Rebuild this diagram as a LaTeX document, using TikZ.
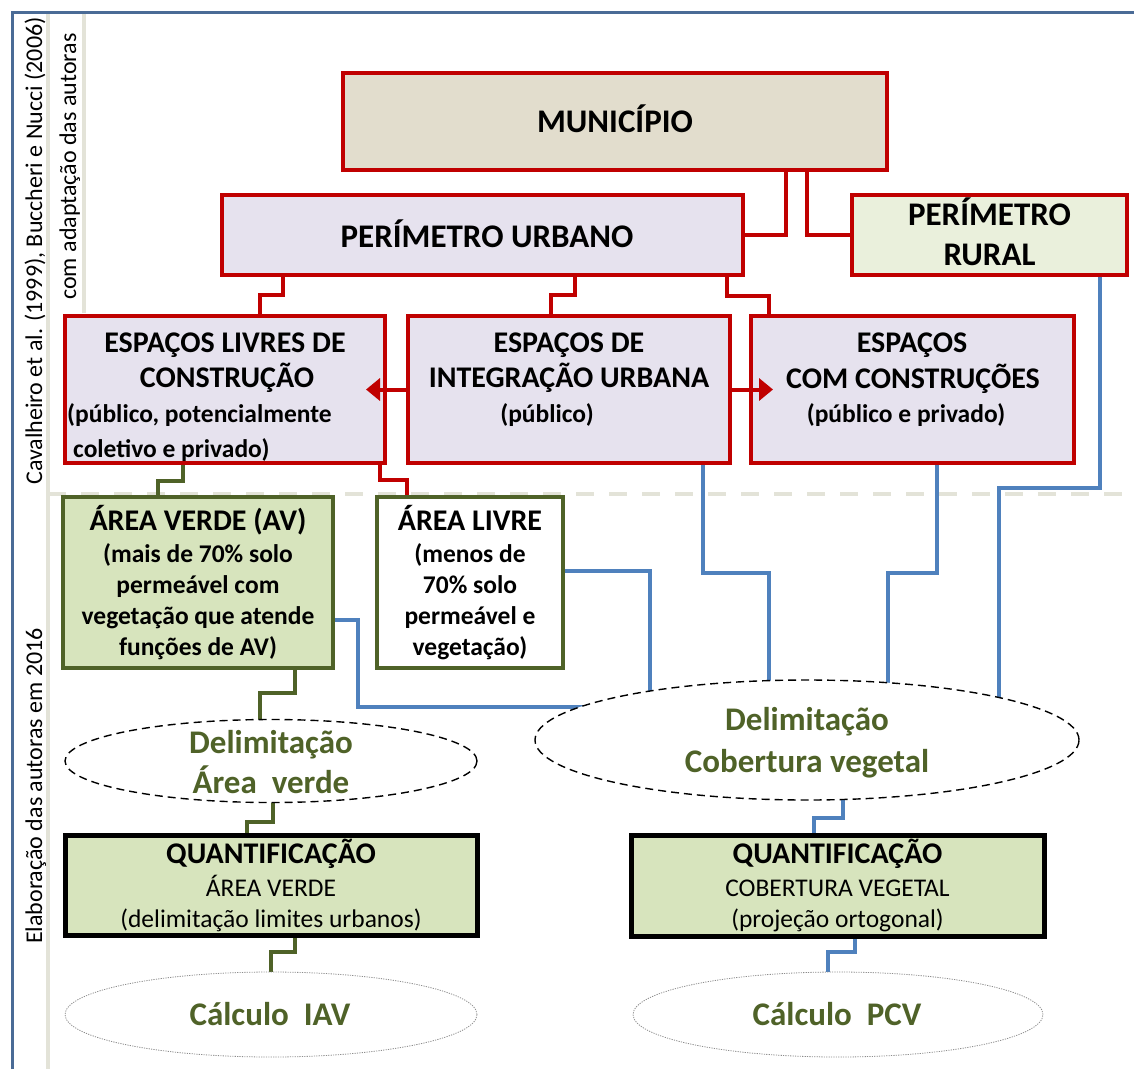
\documentclass[tikz,border=0pt]{standalone}
\usepackage{fontspec}
\setmainfont{Carlito}
\usetikzlibrary{shapes.geometric,arrows.meta}
\definecolor{cred}{HTML}{C00000}
\definecolor{clav}{HTML}{E6E2EE}
\definecolor{cbeige}{HTML}{E2DDCD}
\definecolor{cgreenl}{HTML}{D7E4BD}
\definecolor{cgreenxl}{HTML}{EAF0DC}
\definecolor{colive}{HTML}{4F6228}
\definecolor{cblue}{HTML}{4F81BD}
\definecolor{cframe}{HTML}{4A6B96}
\definecolor{csep}{HTML}{E3E3D8}
\newcommand\fszA{\fontsize{33}{40}\selectfont}
\newcommand\fszB{\fontsize{30}{35}\selectfont}
\newcommand\fszC{\fontsize{25.5}{31}\selectfont}
\newcommand\fszR{\fontsize{24}{29}\selectfont}
\pgfdeclarelayer{bg}
\pgfsetlayers{bg,main}
\begin{document}
\begin{tikzpicture}[x=1pt,y=-1pt,
  redbox/.style={draw=cred, line width=4pt, inner sep=0pt},
  greenbox/.style={draw=colive, line width=4pt, inner sep=0pt},
  quantbox/.style={draw=black, line width=5pt, fill=cgreenl, inner sep=0pt},
  dellipse/.style={ellipse, draw=black, line width=1.4pt, dash pattern=on 8pt off 5pt, fill=white, inner sep=0pt},
  calcellipse/.style={ellipse, draw=black!45, line width=0.8pt, dash pattern=on 1.2pt off 1.2pt, fill=white, inner sep=0pt},
  txt/.style={anchor=base, inner sep=0pt},
  hd/.style={txt, font=\bfseries\fszB},
  sub/.style={txt, font=\bfseries\fszC},
  subr/.style={txt, font=\fszC},
  big/.style={txt, font=\bfseries\fszA},
  oliv/.style={txt, font=\bfseries\fszA, text=colive},
  side/.style={txt, rotate=90, font=\fszR},
  redc/.style={draw=cred, line width=4pt},
  greenc/.style={draw=colive, line width=4pt},
  bluec/.style={draw=cblue, line width=4pt}]
\useasboundingbox (0,0) rectangle (1134,1069);

% ---------- boxes ----------
\node[redbox, fill=cbeige, minimum width=544, minimum height=97] (muni) at (615,121.5) {};
\node[redbox, fill=clav, minimum width=521, minimum height=80] (pu) at (482.5,235) {};
\node[redbox, fill=cgreenxl, minimum width=275, minimum height=80] (rural) at (989.5,235) {};
\node[redbox, fill=clav, minimum width=320, minimum height=147] (livres) at (225,389.5) {};
\node[redbox, fill=clav, minimum width=322, minimum height=147] (integ) at (569,389.5) {};
\node[redbox, fill=clav, minimum width=323, minimum height=147] (com) at (912.5,389.5) {};
\node[greenbox, fill=cgreenl, minimum width=270, minimum height=171] (av) at (198,582.5) {};
\node[greenbox, fill=white, minimum width=186, minimum height=171] (alivre) at (470,582.5) {};
\node[quantbox, minimum width=412, minimum height=100] (qav) at (271,885) {};
\node[quantbox, minimum width=413, minimum height=101] (qcv) at (837.5,885.5) {};
\node[dellipse, minimum width=412, minimum height=83] (eav) at (271,761) {};
\node[dellipse, minimum width=544, minimum height=120] (ecv) at (807,740) {};
\node[calcellipse, minimum width=412, minimum height=85] (iav) at (271,1014.5) {};
\node[calcellipse, minimum width=410, minimum height=85] (pcv) at (838,1014.5) {};

% ---------- texts ----------
\node[big] (muniT) at (615,132) {MUNICÍPIO};
\node[big] (puT) at (487,247) {PERÍMETRO URBANO};
\node[big] (ruralT1) at (989.5,225) {PERÍMETRO};
\node[big] (ruralT2) at (989.5,265) {RURAL};

\node[hd] (livT1) at (225,352) {ESPAÇOS LIVRES DE};
\node[hd] (livT2) at (227,387) {CONSTRUÇÃO};
\node[sub, anchor=base west] (livT3) at (67,422) {(público, potencialmente};
\node[sub, anchor=base west] (livT4) at (73,457) {coletivo e privado)};

\node[hd] (intT1) at (569,352) {ESPAÇOS DE};
\node[hd] (intT2) at (569,387) {INTEGRAÇÃO URBANA};
\node[sub] (intT3) at (547,422) {(público)};

\node[hd] (comT1) at (912,352) {ESPAÇOS};
\node[hd] (comT2) at (913,388) {COM CONSTRUÇÕES};
\node[sub] (comT3) at (906,422) {(público e privado)};

\node[hd] (avT1) at (198,530) {ÁREA VERDE (AV)};
\node[sub] (avT2) at (198,562) {(mais de 70\% solo};
\node[sub] (avT3) at (198,593) {permeável com};
\node[sub] (avT4) at (198,624) {vegetação que atende};
\node[sub] (avT5) at (198,655) {funções de AV)};

\node[hd] (alT1) at (470,530) {ÁREA LIVRE};
\node[sub] (alT2) at (470,562) {(menos de};
\node[sub] (alT3) at (470,593) {70\% solo};
\node[sub] (alT4) at (470,624) {permeável e};
\node[sub] (alT5) at (470,655) {vegetação)};

\node[hd] (qavT1) at (271,863) {QUANTIFICAÇÃO};
\node[subr] (qavT2) at (271,896) {ÁREA VERDE};
\node[subr] (qavT3) at (271,927) {(delimitação limites urbanos)};

\node[hd] (qcvT1) at (837.5,863) {QUANTIFICAÇÃO};
\node[subr] (qcvT2) at (837.5,896) {COBERTURA VEGETAL};
\node[subr] (qcvT3) at (837.5,927) {(projeção ortogonal)};

\node[oliv] (eavT1) at (271,753) {Delimitação};
\node[oliv] (eavT2) at (271,793) {Área\ \ verde};
\node[oliv] (ecvT1) at (807,730) {Delimitação};
\node[oliv] (ecvT2) at (807,772) {Cobertura vegetal};
\node[oliv] (iavT) at (270,1025) {Cálculo\ \ IAV};
\node[oliv] (pcvT) at (837,1025) {Cálculo\ \ PCV};

\node[side] (srcA) at (42,251) {Cavalheiro et al. (1999), Buccheri e Nucci (2006)};
\node[side] (srcB) at (76,166.5) {com adaptação das autoras};
\node[side] (srcC) at (42,786) {Elaboração das autoras em 2016};

% ---------- arrows between level-2 boxes ----------
\draw[redc, -{Triangle[width=22pt,length=14pt]}] (integ.west) -- (366,0 |- integ.west);
\draw[redc, -{Triangle[width=22pt,length=14pt]}] (integ.east) -- (773,0 |- integ.east);

\begin{pgfonlayer}{bg}
% frame and separators
\draw[csep, line width=4pt] (48,12) -- (48,1069);
\draw[csep, line width=4pt] (84,12) -- (84,313);
\draw[csep, line width=4pt, dash pattern=on 18pt off 15pt] (48,494) -- (1134,494);
\draw[cframe, line width=3pt] (12,1069) -- (12,12) -- (1134,12);

% red connectors
\draw[redc] (786,0 |- muni.south) |- (pu.east);
\draw[redc] (807,0 |- muni.south) |- (rural.west);
\draw[redc] (283,0 |- pu.south) -- (283,295) -| (260,0 |- livres.north);
\draw[redc] (575,0 |- pu.south) -- (575,295) -| (551,0 |- integ.north);
\draw[redc] (727,0 |- pu.south) -- (727,296) -| (769,0 |- com.north);
\draw[redc] (380,0 |- livres.south) -- (380,480) -| (407,0 |- alivre.north);

% green connectors
\draw[greenc] (183,0 |- livres.south) -- (183,481) -| (158,0 |- av.north);
\draw[greenc] (295,0 |- av.south) -- (295,693) -| (260,0 |- eav.center);
\draw[greenc] (273,0 |- eav.center) -- (273,822) -| (247,0 |- qav.north);
\draw[greenc] (295,0 |- qav.south) -- (295,952) -| (271,0 |- iav.center);

% blue connectors
\draw[bluec] (av.east |- 0,620) -| (358,707) -- (ecv.center |- 0,707);
\draw[bluec] (alivre.east |- 0,571) -| (650,0 |- ecv.center);
\draw[bluec] (703,0 |- integ.south) -- (703,573) -| (769,0 |- ecv.center);
\draw[bluec] (937,0 |- com.south) -- (937,573) -| (888,0 |- ecv.center);
\draw[bluec] (1100,0 |- rural.south) -- (1100,488) -| (999,0 |- ecv.center);
\draw[bluec] (843,0 |- ecv.center) -- (843,818) -| (814,0 |- qcv.north);
\draw[bluec] (855,0 |- qcv.south) -- (855,952) -| (828,0 |- pcv.center);
\end{pgfonlayer}
\end{tikzpicture}
\end{document}
